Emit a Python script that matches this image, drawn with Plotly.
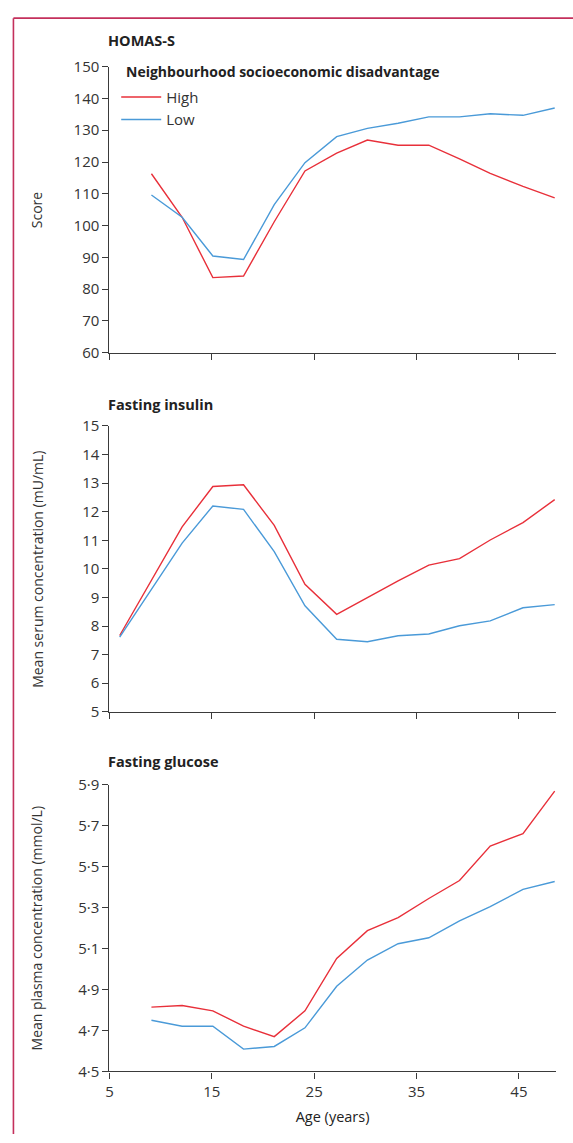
import plotly.graph_objects as go

# ages (years) at which each series was measured
ages = [9.1, 12.1, 15.1, 18.1, 21.1, 24.1, 27.2, 30.2, 33.2, 36.2, 39.2, 42.2, 45.4, 48.5]
ages_insulin = [6.0, 12.1, 15.1, 18.1, 21.1, 24.1, 27.2, 30.2, 33.2, 36.2, 39.2, 42.2, 45.4, 48.5]

homas_high = [116.3, 102.6, 83.6, 84.1, 101.2, 117.2, 122.8, 126.9, 125.3, 125.3, 121.0, 116.4, 112.3, 108.7]
homas_low = [109.6, 102.6, 90.4, 89.3, 106.6, 119.8, 128.0, 130.6, 132.2, 134.2, 134.2, 135.2, 134.7, 137.0]

insulin_high = [7.67, 11.47, 12.88, 12.94, 11.52, 9.46, 8.41, 9.00, 9.58, 10.13, 10.36, 11.01, 11.62, 12.42]
insulin_low = [7.61, 10.90, 12.20, 12.08, 10.60, 8.71, 7.54, 7.45, 7.66, 7.72, 8.01, 8.18, 8.64, 8.75]

glucose_high = [4.814, 4.822, 4.796, 4.721, 4.670, 4.796, 5.052, 5.188, 5.252, 5.345, 5.433, 5.601, 5.662, 5.870]
glucose_low = [4.750, 4.721, 4.721, 4.609, 4.622, 4.713, 4.916, 5.044, 5.124, 5.153, 5.236, 5.305, 5.390, 5.428]

x_ticks = [5, 15, 25, 35, 45]
homas_ticks = [60, 70, 80, 90, 100, 110, 120, 130, 140, 150]
insulin_ticks = [5, 6, 7, 8, 9, 10, 11, 12, 13, 14, 15]
glucose_ticks = [4.5, 4.7, 4.9, 5.1, 5.3, 5.5, 5.7, 5.9]
glucose_labels = ["4·5", "4·7", "4·9", "5·1", "5·3", "5·5", "5·7", "5·9"]

RED = "#e8303a"
BLUE = "#4a9ad8"
AXIS = "#3a3a3a"
FRAME = "#c4305c"

W, H = 573, 1143


def px_x(p):
    return p / W


def px_y(p):
    return 1 - p / H


fig = go.Figure()

panels = [
    (homas_high, homas_low, ages, "x", "y"),
    (insulin_high, insulin_low, ages_insulin, "x2", "y2"),
    (glucose_high, glucose_low, ages, "x3", "y3"),
]
for i, (hi, lo, xs, xa, ya) in enumerate(panels):
    fig.add_trace(go.Scatter(x=xs, y=hi, mode="lines", name="High", xaxis=xa, yaxis=ya,
                             line=dict(color=RED, width=1.4), showlegend=(i == 0)))
    fig.add_trace(go.Scatter(x=xs, y=lo, mode="lines", name="Low", xaxis=xa, yaxis=ya,
                             line=dict(color=BLUE, width=1.4), showlegend=(i == 0)))

xdom = [px_x(106.2), px_x(555.6)]
common_x = dict(range=[5, 48.6], tickvals=x_ticks, ticks="outside", ticklen=6, tickcolor=AXIS,
                showline=True, linecolor=AXIS, linewidth=1.3, showgrid=False, zeroline=False,
                domain=xdom, tickfont=dict(size=15, color="#333"))
common_y = dict(ticks="outside", ticklen=6, tickcolor=AXIS, showline=True, linecolor=AXIS,
                linewidth=1.3, showgrid=False, zeroline=False, tickfont=dict(size=15, color="#333"))

fig.update_layout(
    width=W, height=H,
    margin=dict(l=0, r=0, t=0, b=0),
    paper_bgcolor="white", plot_bgcolor="white",
    font=dict(family="Open Sans", color="#222"),
    xaxis=dict(common_x, anchor="y", showticklabels=False),
    xaxis2=dict(common_x, anchor="y2", showticklabels=False),
    xaxis3=dict(common_x, anchor="y3", title=dict(text="Age (years)", font=dict(size=14.5), standoff=12)),
    yaxis=dict(common_y, anchor="x", range=[60, 150], tickvals=homas_ticks,
               domain=[px_y(347.7), px_y(56.7)]),
    yaxis2=dict(common_y, anchor="x2", range=[5, 15], tickvals=insulin_ticks,
                domain=[px_y(713.3), px_y(422.3)]),
    yaxis3=dict(common_y, anchor="x3", range=[4.5, 5.9], tickvals=glucose_ticks,
                ticktext=glucose_labels, domain=[px_y(1079.3), px_y(787.7)]),
    legend=dict(x=px_x(113), y=px_y(71), xanchor="left", yanchor="top",
                bgcolor="rgba(0,0,0,0)", font=dict(size=15, color="#333"),
                tracegroupgap=0, itemwidth=40),
    showlegend=True,
)

titles = [("HOMAS-S", 30, 103, 14.5), ("Fasting insulin", 400, 103, 14.5),
          ("Fasting glucose", 764, 103, 14.5),
          ("Neighbourhood socioeconomic disadvantage", 62, 120.6, 14)]
for text, yp, xp, size in titles:
    fig.add_annotation(text="<b>" + text + "</b>", x=px_x(xp), y=px_y(yp), xref="paper", yref="paper",
                       xanchor="left", yanchor="middle", showarrow=False,
                       font=dict(size=size, color="#222"))

ytitles = [("Score", 202), ("Mean serum concentration (mU/mL)", 568),
           ("Mean plasma concentration (mmol/L)", 933)]
for text, yp in ytitles:
    fig.add_annotation(text=text, x=px_x(33), y=px_y(yp), xref="paper", yref="paper",
                       xanchor="center", yanchor="middle", textangle=-90, showarrow=False,
                       font=dict(size=14, color="#333"))

# magenta frame on the top and left edges
fig.add_shape(type="line", xref="paper", yref="paper", x0=px_x(9.5), x1=1, y0=px_y(7.3), y1=px_y(7.3),
              line=dict(color=FRAME, width=1.6))
fig.add_shape(type="line", xref="paper", yref="paper", x0=px_x(9.5), x1=px_x(9.5), y0=0, y1=px_y(7.3),
              line=dict(color=FRAME, width=1.6))

fig.write_html("out.html", config={"displayModeBar": False},
               post_script="document.body.style.margin='0';")
